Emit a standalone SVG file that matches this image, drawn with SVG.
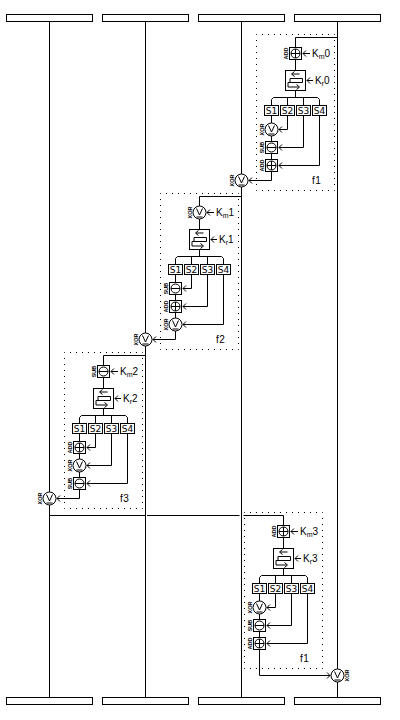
<svg xmlns="http://www.w3.org/2000/svg" width="400" height="720" viewBox="0 0 400 720">
<style>
.w{fill:none;stroke:#000;stroke-width:1}
.b{fill:#fff;stroke:#000;stroke-width:1}
.d{fill:none;stroke:#000;stroke-width:1;stroke-dasharray:1 5;stroke-dashoffset:.5}
.t{font-family:"Liberation Sans",Arial,sans-serif;font-size:10px;fill:#000}
.s{font-size:7px}
.o{font-family:"Liberation Sans",Arial,sans-serif;font-size:5.5px;font-weight:bold;fill:#000;text-anchor:middle}
.c{font-family:"DejaVu Sans",sans-serif;font-size:9px;fill:#000;text-anchor:middle}
</style>
<defs>
<marker id="a" markerUnits="userSpaceOnUse" markerWidth="6" markerHeight="7" refX="5" refY="3.5" orient="auto-start-reverse"><path d="M2 .5L5 3.5L2 6.5" fill="none" stroke="#000"/></marker>
<g id="xor"><circle class="b" r="6.5"/><path class="w" d="M-3-4L0 2.500L3-4M-3 4.500H3"/></g>
<g id="add"><rect class="b" x="-6" y="-6" width="12" height="12"/><circle class="w" r="4.500"/><path class="w" d="M-4.500 0H4.500M0-4.500V4.500"/></g>
<g id="sub"><rect class="b" x="-6" y="-6" width="12" height="12"/><circle class="w" r="4.500"/><path class="w" d="M-4.500 0H4.500"/></g>
<g id="kr"><rect class="b" x="-10" y="-10" width="20" height="20"/><path class="w" d="M4-6.500H-3.500M-5.500-2H7V2H-5.500ZM-7.500 2V6.500H3"/><path class="w" d="M-1-9L-4-6.500L-1-4M1 4L4 6.500L1 9M-7.500 2H-5.500"/></g>
<path id="wires" class="w" d="M295.500 60V70M295.500 91V97.500M271.500 105V99.500L273.500 97.500H317.500L319.500 99.500V105M287.500 97.500V105M303.500 97.500V105M271.500 115V171"/>
<g id="in3"><path class="w" d="M287.500 115V129.500H279" marker-end="url(#a)"/><path class="w" d="M303.500 115V147.500H279" marker-end="url(#a)"/><path class="w" d="M319.500 115V165.500H279" marker-end="url(#a)"/></g>
</defs>
<g id="bars">
<rect id="bar-t1" class="b" x="6.500" y="14.500" width="86" height="7"/><rect id="bar-t2" class="b" x="102.500" y="14.500" width="86" height="7"/><rect id="bar-t3" class="b" x="198.500" y="14.500" width="86" height="7"/><rect id="bar-t4" class="b" x="294.500" y="14.500" width="86" height="7"/>
<rect id="bar-b1" class="b" x="6.500" y="697.500" width="86" height="7"/><rect id="bar-b2" class="b" x="102.500" y="697.500" width="86" height="7"/><rect id="bar-b3" class="b" x="198.500" y="697.500" width="86" height="7"/><rect id="bar-b4" class="b" x="294.500" y="697.500" width="86" height="7"/>
</g>
<g id="frames">
<rect class="d" x="256.500" y="34.500" width="78" height="156"/>
<rect class="d" x="160.500" y="193.500" width="78" height="156"/>
<rect class="d" x="64.500" y="352.500" width="78" height="156"/>
<rect class="d" x="244.500" y="512.500" width="78" height="156"/>
</g>
<g id="connectors">
<path class="w" d="M49.500 22V697M145.500 22V697M241.500 22V697M337.500 22V697"/>
<path class="w" d="M337.500 37.500H295.500V47M241.500 196.500H199.500V206M145.500 355.500H103.500V365M49.500 515.500H145M147 515.500H239.500M243.500 515.500H283.500V525"/>
<use href="#wires"/><use href="#in3"/>
<use href="#wires" x="-96" y="159"/><use href="#in3" x="-96" y="159"/>
<use href="#wires" x="-192" y="318"/><use href="#in3" x="-192" y="318"/>
<use href="#wires" x="-12" y="478"/><use href="#in3" x="-12" y="478"/>
<path class="w" d="M271.500 171V180.500H249" marker-end="url(#a)"/>
<path class="w" d="M175.500 330V339.500H153" marker-end="url(#a)"/>
<path class="w" d="M79.500 489V498.500H57" marker-end="url(#a)"/>
<path class="w" d="M259.500 649V675.500H330" marker-end="url(#a)"/>
<path class="w" d="M303 53.500H310" marker-start="url(#a)"/><path class="w" d="M307 80.500H313" marker-start="url(#a)"/>
<path class="w" d="M207 212.500H214" marker-start="url(#a)"/><path class="w" d="M211 239.500H217" marker-start="url(#a)"/>
<path class="w" d="M111 371.500H118" marker-start="url(#a)"/><path class="w" d="M115 398.500H121" marker-start="url(#a)"/>
<path class="w" d="M291 531.500H298" marker-start="url(#a)"/><path class="w" d="M295 558.500H301" marker-start="url(#a)"/>
</g>
<g id="f1-a">
<g id="a-km"><use href="#add" x="295.500" y="53.500"/><text class="o" transform="translate(285.500,53.500) rotate(-90)" y="2">ADD</text><text class="t" x="312" y="57">K<tspan class="s" dy="2">m</tspan><tspan dy="-2">0</tspan></text></g>
<g id="a-kr"><use href="#kr" x="295.500" y="80.500"/><text class="t" x="315" y="84">K<tspan class="s" dy="2">r</tspan><tspan dy="-2">0</tspan></text></g>
<g id="a-s1"><rect class="b" x="264.500" y="105.500" width="14" height="10"/><text class="c" x="271.500" y="114">S1</text></g>
<g id="a-s2"><rect class="b" x="280.500" y="105.500" width="14" height="10"/><text class="c" x="287.500" y="114">S2</text></g>
<g id="a-s3"><rect class="b" x="296.500" y="105.500" width="14" height="10"/><text class="c" x="303.500" y="114">S3</text></g>
<g id="a-s4"><rect class="b" x="312.500" y="105.500" width="14" height="10"/><text class="c" x="319.500" y="114">S4</text></g>
<g id="a-o1"><use href="#xor" x="271.500" y="129.500"/><text class="o" transform="translate(261.500,129.500) rotate(-90)" y="2">XOR</text></g>
<g id="a-o2"><use href="#sub" x="271.500" y="147.500"/><text class="o" transform="translate(261.500,147.500) rotate(-90)" y="2">SUB</text></g>
<g id="a-o3"><use href="#add" x="271.500" y="165.500"/><text class="o" transform="translate(261.500,165.500) rotate(-90)" y="2">ADD</text></g>
<g id="a-out"><use href="#xor" x="241.500" y="180.500"/><text class="o" transform="translate(232,180.500) rotate(-90)" y="2">XOR</text></g>
<text id="a-label" class="t" x="312" y="184" letter-spacing=".5">f1</text>
</g>
<g id="f2-b">
<g id="b-km"><use href="#xor" x="199.500" y="212.500"/><text class="o" transform="translate(189.500,212.500) rotate(-90)" y="2">XOR</text><text class="t" x="216" y="216">K<tspan class="s" dy="2">m</tspan><tspan dy="-2">1</tspan></text></g>
<g id="b-kr"><use href="#kr" x="199.500" y="239.500"/><text class="t" x="219" y="243">K<tspan class="s" dy="2">r</tspan><tspan dy="-2">1</tspan></text></g>
<g id="b-s1"><rect class="b" x="168.500" y="264.500" width="14" height="10"/><text class="c" x="175.500" y="273">S1</text></g>
<g id="b-s2"><rect class="b" x="184.500" y="264.500" width="14" height="10"/><text class="c" x="191.500" y="273">S2</text></g>
<g id="b-s3"><rect class="b" x="200.500" y="264.500" width="14" height="10"/><text class="c" x="207.500" y="273">S3</text></g>
<g id="b-s4"><rect class="b" x="216.500" y="264.500" width="14" height="10"/><text class="c" x="223.500" y="273">S4</text></g>
<g id="b-o1"><use href="#sub" x="175.500" y="288.500"/><text class="o" transform="translate(165.500,288.500) rotate(-90)" y="2">SUB</text></g>
<g id="b-o2"><use href="#add" x="175.500" y="306.500"/><text class="o" transform="translate(165.500,306.500) rotate(-90)" y="2">ADD</text></g>
<g id="b-o3"><use href="#xor" x="175.500" y="324.500"/><text class="o" transform="translate(165.500,324.500) rotate(-90)" y="2">XOR</text></g>
<g id="b-out"><use href="#xor" x="145.500" y="339.500"/><text class="o" transform="translate(136,339.500) rotate(-90)" y="2">XOR</text></g>
<text id="b-label" class="t" x="216" y="343" letter-spacing=".5">f2</text>
</g>
<g id="f3-c">
<g id="c-km"><use href="#sub" x="103.500" y="371.500"/><text class="o" transform="translate(93.500,371.500) rotate(-90)" y="2">SUB</text><text class="t" x="120" y="375">K<tspan class="s" dy="2">m</tspan><tspan dy="-2">2</tspan></text></g>
<g id="c-kr"><use href="#kr" x="103.500" y="398.500"/><text class="t" x="123" y="402">K<tspan class="s" dy="2">r</tspan><tspan dy="-2">2</tspan></text></g>
<g id="c-s1"><rect class="b" x="72.500" y="423.500" width="14" height="10"/><text class="c" x="79.500" y="432">S1</text></g>
<g id="c-s2"><rect class="b" x="88.500" y="423.500" width="14" height="10"/><text class="c" x="95.500" y="432">S2</text></g>
<g id="c-s3"><rect class="b" x="104.500" y="423.500" width="14" height="10"/><text class="c" x="111.500" y="432">S3</text></g>
<g id="c-s4"><rect class="b" x="120.500" y="423.500" width="14" height="10"/><text class="c" x="127.500" y="432">S4</text></g>
<g id="c-o1"><use href="#add" x="79.500" y="447.500"/><text class="o" transform="translate(69.500,447.500) rotate(-90)" y="2">ADD</text></g>
<g id="c-o2"><use href="#xor" x="79.500" y="465.500"/><text class="o" transform="translate(69.500,465.500) rotate(-90)" y="2">XOR</text></g>
<g id="c-o3"><use href="#sub" x="79.500" y="483.500"/><text class="o" transform="translate(69.500,483.500) rotate(-90)" y="2">SUB</text></g>
<g id="c-out"><use href="#xor" x="49.500" y="498.500"/><text class="o" transform="translate(40,498.500) rotate(-90)" y="2">XOR</text></g>
<text id="c-label" class="t" x="120" y="502" letter-spacing=".5">f3</text>
</g>
<g id="f1-d">
<g id="d-km"><use href="#add" x="283.500" y="531.500"/><text class="o" transform="translate(273.500,531.500) rotate(-90)" y="2">ADD</text><text class="t" x="300" y="535">K<tspan class="s" dy="2">m</tspan><tspan dy="-2">3</tspan></text></g>
<g id="d-kr"><use href="#kr" x="283.500" y="558.500"/><text class="t" x="303" y="562">K<tspan class="s" dy="2">r</tspan><tspan dy="-2">3</tspan></text></g>
<g id="d-s1"><rect class="b" x="252.500" y="583.500" width="14" height="10"/><text class="c" x="259.500" y="592">S1</text></g>
<g id="d-s2"><rect class="b" x="268.500" y="583.500" width="14" height="10"/><text class="c" x="275.500" y="592">S2</text></g>
<g id="d-s3"><rect class="b" x="284.500" y="583.500" width="14" height="10"/><text class="c" x="291.500" y="592">S3</text></g>
<g id="d-s4"><rect class="b" x="300.500" y="583.500" width="14" height="10"/><text class="c" x="307.500" y="592">S4</text></g>
<g id="d-o1"><use href="#xor" x="259.500" y="607.500"/><text class="o" transform="translate(249.500,607.500) rotate(-90)" y="2">XOR</text></g>
<g id="d-o2"><use href="#sub" x="259.500" y="625.500"/><text class="o" transform="translate(249.500,625.500) rotate(-90)" y="2">SUB</text></g>
<g id="d-o3"><use href="#add" x="259.500" y="643.500"/><text class="o" transform="translate(249.500,643.500) rotate(-90)" y="2">ADD</text></g>
<g id="d-out"><use href="#xor" x="337.500" y="675.500"/><text class="o" transform="translate(347,675.500) rotate(-90)" y="2">XOR</text></g>
<text id="d-label" class="t" x="300" y="662" letter-spacing=".5">f1</text>
</g>
</svg>
